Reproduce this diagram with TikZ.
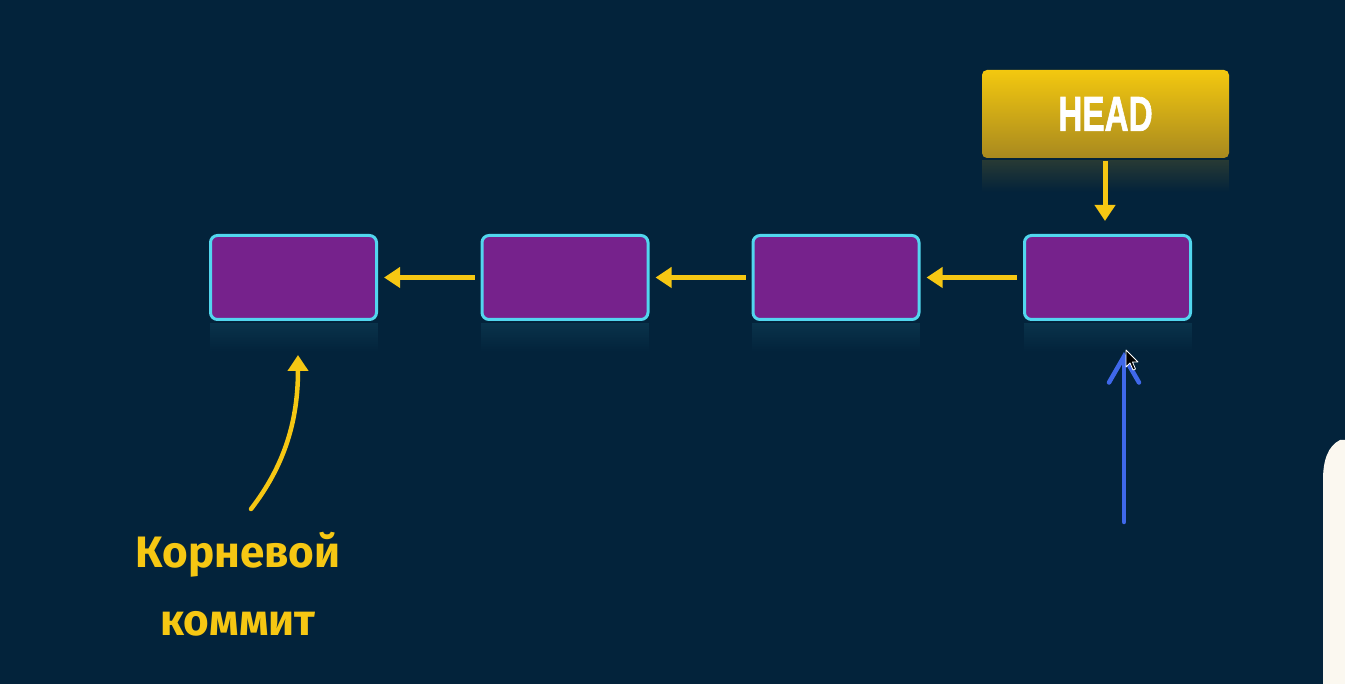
\documentclass[tikz,border=0pt]{standalone}
\usepackage{fontspec}
\setmainfont{Fira Sans}
\newfontfamily\headfont{Liberation Sans Bold}[FakeBold=1.6]
\usetikzlibrary{arrows.meta,fadings}
\definecolor{bg}{HTML}{03233B}
\definecolor{cpurple}{HTML}{76228C}
\definecolor{ccyan}{HTML}{52D6EE}
\definecolor{cyel}{HTML}{F6C713}
\definecolor{hgold1}{HTML}{F3C80F}
\definecolor{hgold2}{HTML}{A8891F}
\definecolor{cblue}{HTML}{3F68EA}
\definecolor{cpaper}{HTML}{FBF8F0}
\tikzset{
  commit/.style={draw=ccyan, line width=3pt, fill=cpurple, rounded corners=7pt,
    minimum width=166pt, minimum height=84pt, inner sep=0pt},
  headbox/.style={rounded corners=5pt, top color=hgold1, bottom color=hgold2,
    minimum width=247pt, minimum height=88pt, inner sep=0pt, text=white},
  yarrow/.style={draw=cyel, line width=5pt, -{Triangle[length=16pt,width=20pt]}},
  barrow/.style={draw=cblue, line width=4.5pt, line cap=round,
    -{Straight Barb[length=26pt,width=30pt,line cap=round]}},
  refl/.style={fill=ccyan!30!bg, path fading=south, opacity=0.3},
  lbl/.style={text=cyel, font=\fontsize{44}{68}\selectfont\bfseries, align=center}
}
\begin{document}
\begin{tikzpicture}[x=1pt,y=-1pt]
\fill[bg] (0,0) rectangle (1345,684);
\useasboundingbox (0,0) rectangle (1345,684);
% paper on right
\fill[cpaper] (1345,440) -- (1340,440) .. controls (1328,446) and (1323,460) .. (1323,480) -- (1323,684) -- (1345,684) -- cycle;
% reflections
\foreach \cx in {293.5,565,836,1107.5}{
  \fill[refl] (\cx-84,323) rectangle (\cx+84,352);
}
\fill[hgold2!50!bg, path fading=south, opacity=0.45] (982,160) rectangle (1229,192);
% commits
\node[commit] (c1) at (293.5,277.5) {};
\node[commit] (c2) at (565,277.5) {};
\node[commit] (c3) at (836,277.5) {};
\node[commit] (c4) at (1107.5,277.5) {};
% head
\node[headbox] (head) at (1105.5,114) {\headfont\fontsize{49}{50}\selectfont\scalebox{0.68}[1]{HEAD}};
% arrows
\draw[yarrow, shorten <=6pt, shorten >=6pt] (c2) -- (c1);
\draw[yarrow, shorten <=6pt, shorten >=6pt] (c3) -- (c2);
\draw[yarrow, shorten <=6pt, shorten >=6pt] (c4) -- (c3);
\coordinate (ht) at (1105,158);
\coordinate (hb) at (1105,221);
\draw[yarrow, shorten <=3pt] (ht) -- (hb);
% root label
\node[lbl] (root) at (238,584) {Корневой\\коммит};
\coordinate (rt0) at (251,509);
\coordinate (rt1) at (298,355);
\draw[yarrow, line width=4.5pt, line cap=round] (rt0) .. controls (285,465) and (298,420) .. (rt1);
% blue arrow
\coordinate (b0) at (1124,522);
\coordinate (b1) at (1124,352);
\draw[barrow] (b0) -- (b1);
% cursor
\coordinate (cur) at (1126,350);
\draw[fill=black, draw=white, line width=0.8pt, line join=round]
  (cur) -- ++(0,17) -- ++(4,-4) -- ++(3,7) -- ++(2.5,-1) -- ++(-3,-7) -- ++(5.5,0) -- cycle;
\end{tikzpicture}
\end{document}
